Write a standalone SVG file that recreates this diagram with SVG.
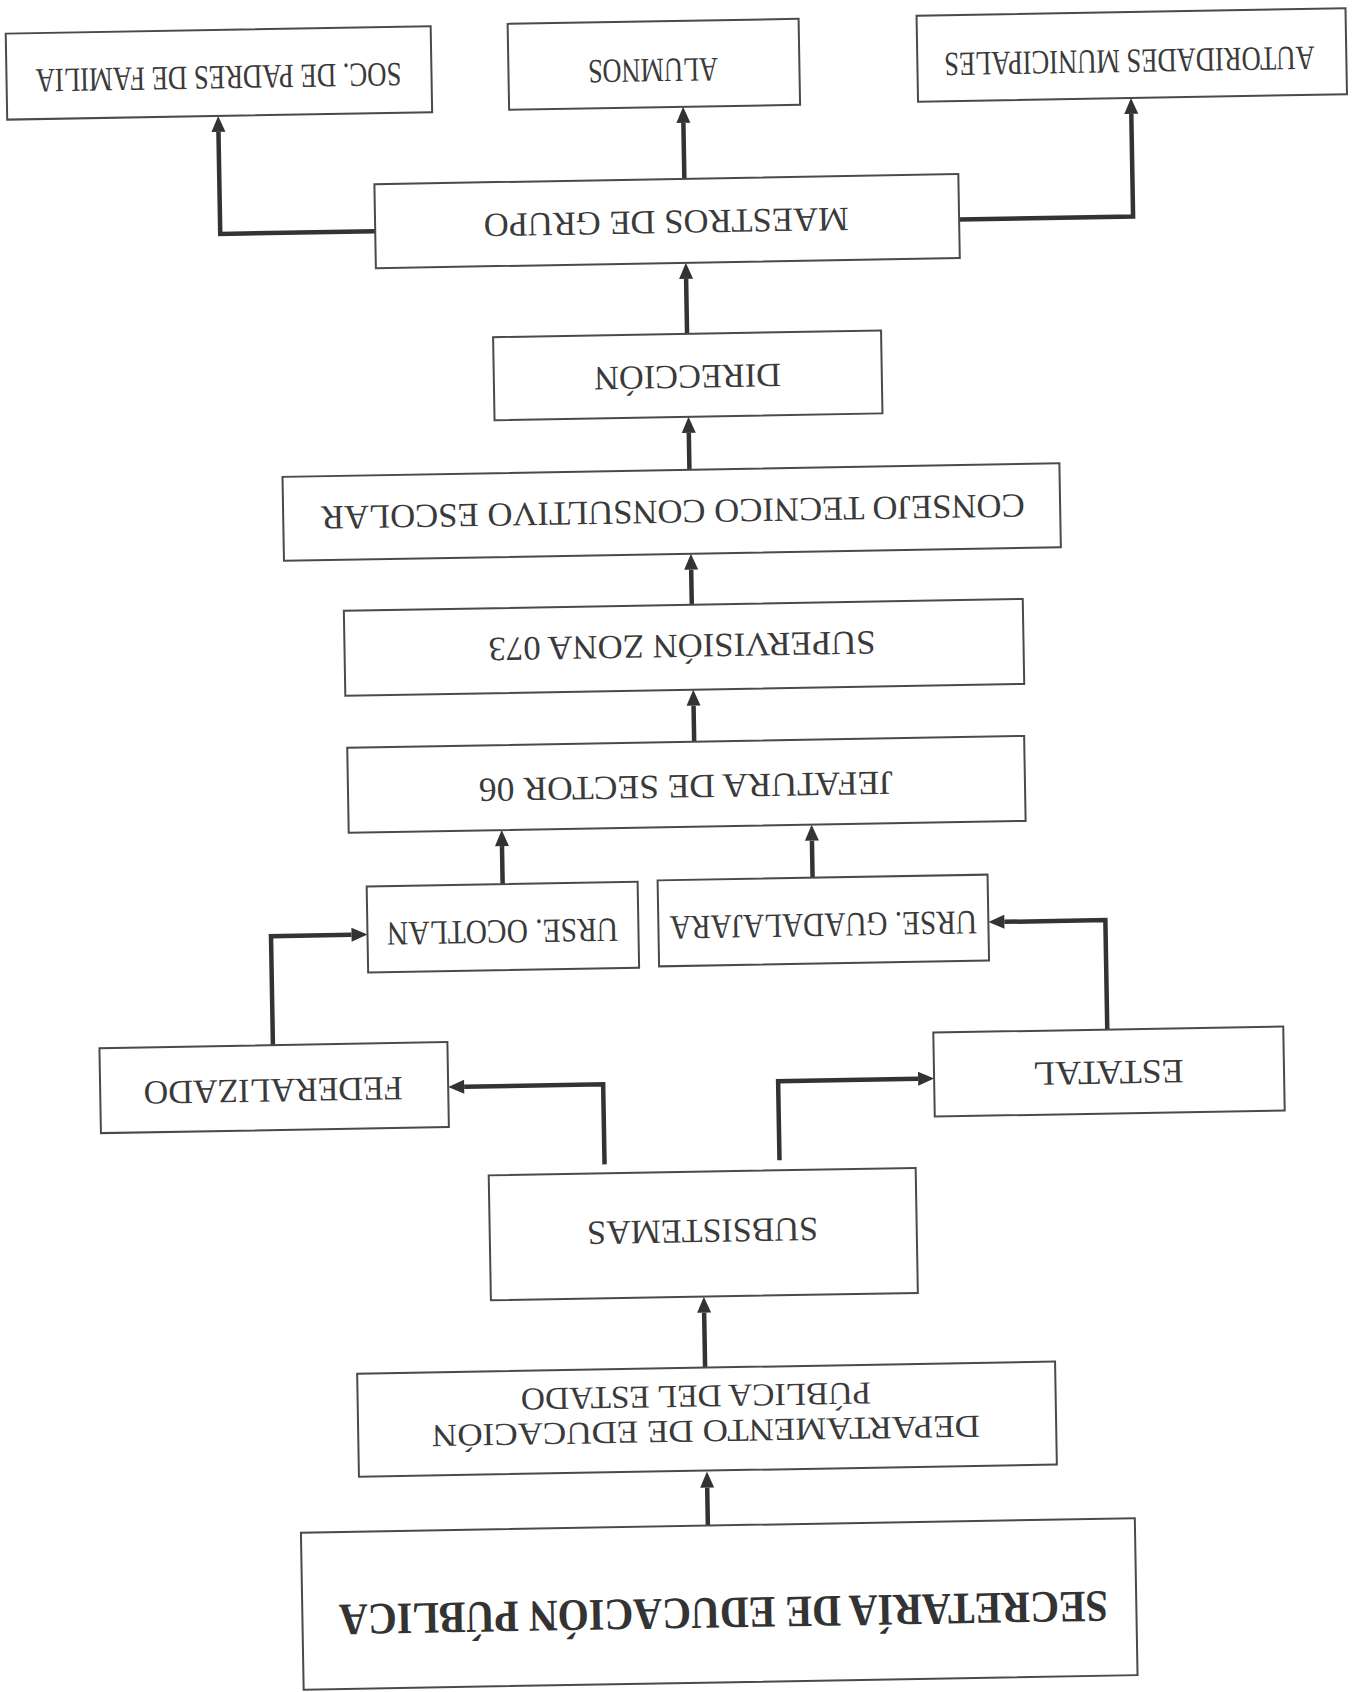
<svg xmlns="http://www.w3.org/2000/svg" width="1358" height="1692" viewBox="0 0 1358 1692">
<style>
.box{fill:#fff;stroke:#4a4a4a;stroke-width:2}
.lbl{font-family:"Liberation Serif","Times New Roman",serif;font-size:34px;fill:#3a3a3a;text-anchor:middle}
.sm{font-size:31px}
.dep{font-size:32px}
.sec{font-size:45px;font-weight:bold;fill:#333}
.con{fill:none;stroke:#333;stroke-width:4.5;stroke-linejoin:miter}
</style>
<defs>
<marker id="ah" markerUnits="userSpaceOnUse" markerWidth="16" markerHeight="14" refX="0" refY="7" orient="auto" overflow="visible">
<path d="M0,0 L16,7 L0,14 z" fill="#333"/>
</marker>
</defs>
<rect width="1358" height="1692" fill="#fff"/>
<g transform="rotate(-1 679 846)">
<g id="connectors">
<path class="con" marker-end="url(#ah)" d="M696,1526 V1488"/>
<path class="con" marker-end="url(#ah)" d="M696,1368 V1313"/>
<path class="con" marker-end="url(#ah)" d="M599,1163 V1083 H460"/>
<path class="con" marker-end="url(#ah)" d="M774,1162 V1083 H914"/>
<path class="con" marker-end="url(#ah)" d="M269.5,1038 V929 H350"/>
<path class="con" marker-end="url(#ah)" d="M1104,1037 V927.5 H1003"/>
<path class="con" marker-end="url(#ah)" d="M502,881 V843"/>
<path class="con" marker-end="url(#ah)" d="M812,880 V843"/>
<path class="con" marker-end="url(#ah)" d="M696,742 V706"/>
<path class="con" marker-end="url(#ah)" d="M696,605 V570"/>
<path class="con" marker-end="url(#ah)" d="M696,470 V433"/>
<path class="con" marker-end="url(#ah)" d="M696,334 V279"/>
<path class="con" marker-end="url(#ah)" d="M696,179 V123"/>
<path class="con" marker-end="url(#ah)" d="M386,226 H231 V124"/>
<path class="con" marker-end="url(#ah)" d="M970,224.5 H1144 V122"/>
</g>
<g id="soc">
<rect class="box" x="20" y="22" width="425" height="86"/>
<text class="lbl" x="0" y="11.3" transform="translate(232 69.5) rotate(180) scale(0.786 1)">SOC. DE PADRES DE FAMILIA</text>
</g>
<g id="alumnos">
<rect class="box" x="522" y="21" width="291" height="86"/>
<text class="lbl" x="666.5" y="81.3" textLength="130" lengthAdjust="spacingAndGlyphs" transform="rotate(180 666.5 70)">ALUMNOS</text>
</g>
<g id="autoridades">
<rect class="box" x="931" y="20" width="429" height="86"/>
<text class="lbl" x="0" y="11.3" transform="translate(1143 69) rotate(180) scale(0.78 1)">AUTORIDADES MUNICIPALES</text>
</g>
<g id="maestros">
<rect class="box" x="386" y="179" width="584" height="84"/>
<text class="lbl" x="677" y="233.3" textLength="365" lengthAdjust="spacingAndGlyphs" transform="rotate(180 677 222)">MAESTROS DE GRUPO</text>
</g>
<g id="direccion">
<rect class="box" x="502" y="334" width="388" height="83"/>
<text class="lbl" x="695.7" y="388.3" textLength="187" lengthAdjust="spacingAndGlyphs" transform="rotate(180 695.7 377)">DIRECCIÓN</text>
</g>
<g id="consejo">
<rect class="box" x="289" y="470" width="777" height="84"/>
<text class="lbl" x="678.5" y="522.9" textLength="704" lengthAdjust="spacingAndGlyphs" transform="rotate(180 678.5 511.6)">CONSEJO TECNICO CONSULTIVO ESCOLAR</text>
</g>
<g id="supervision">
<rect class="box" x="348" y="605" width="679" height="85"/>
<text class="lbl" x="685.5" y="657.3" textLength="387" lengthAdjust="spacingAndGlyphs" transform="rotate(180 685.5 646)">SUPERVISIÓN ZONA 073</text>
</g>
<g id="jefatura">
<rect class="box" x="349" y="742" width="677" height="85"/>
<text class="lbl" x="687" y="797.9" textLength="414" lengthAdjust="spacingAndGlyphs" transform="rotate(180 687 786.6)">JEFATURA DE SECTOR 06</text>
</g>
<g id="ocotlan">
<rect class="box" x="366" y="881" width="271" height="86"/>
<text class="lbl" x="501" y="939.9" textLength="231" lengthAdjust="spacingAndGlyphs" transform="rotate(180 501 928.6)">URSE. OCOTLAN</text>
</g>
<g id="guadalajara">
<rect class="box" x="657" y="880" width="330" height="86"/>
<text class="lbl" x="822" y="938.8" textLength="307" lengthAdjust="spacingAndGlyphs" transform="rotate(180 822 927.5)">URSE. GUADALAJARA</text>
</g>
<g id="federalizado">
<rect class="box" x="96" y="1038" width="348" height="85"/>
<text class="lbl" x="269" y="1094.7" textLength="259" lengthAdjust="spacingAndGlyphs" transform="rotate(180 269 1083.4)">FEDERALIZADO</text>
</g>
<g id="estatal">
<rect class="box" x="930" y="1037" width="350" height="84"/>
<text class="lbl" x="1104.3" y="1091.3" textLength="151" lengthAdjust="spacingAndGlyphs" transform="rotate(180 1104.3 1080)">ESTATAL</text>
</g>
<g id="subsistemas">
<rect class="box" x="483" y="1172" width="427" height="125"/>
<text class="lbl" x="695.8" y="1242.7" textLength="231" lengthAdjust="spacingAndGlyphs" transform="rotate(180 695.8 1231.4)">SUBSISTEMAS</text>
</g>
<g id="departamento">
<rect class="box" x="348" y="1368" width="698" height="103"/>
<text class="lbl dep" x="695.7" y="1442" textLength="548" lengthAdjust="spacingAndGlyphs" transform="rotate(180 695.7 1431.4)">DEPARTAMENTO DE EDUCACIÓN</text>
<text class="lbl dep" x="686.3" y="1407" textLength="350" lengthAdjust="spacingAndGlyphs" transform="rotate(180 686.3 1396.4)">PÚBLICA DEL ESTADO</text>
</g>
<g id="secretaria">
<rect class="box" x="289" y="1526" width="834" height="157"/>
<text class="lbl sec" x="710" y="1628.4" textLength="769" lengthAdjust="spacingAndGlyphs" transform="rotate(180 710 1613.5)">SECRETARÍA DE EDUCACIÓN PÚBLICA</text>
</g>
</g>
</svg>
